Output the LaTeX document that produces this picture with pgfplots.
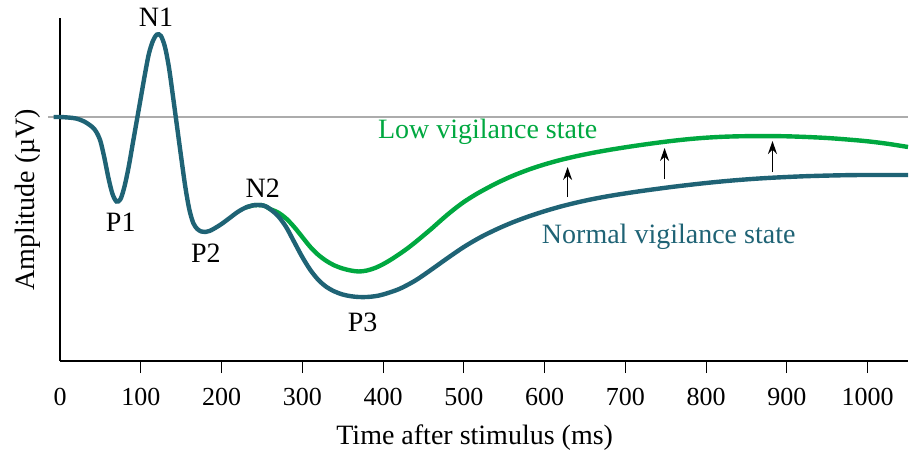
\documentclass[border=0pt]{standalone}
\usepackage{fontspec}
\setmainfont{Liberation Serif}
\usepackage{pgfplots}
\pgfplotsset{compat=1.18}
\usetikzlibrary{arrows.meta}

\definecolor{normalc}{RGB}{31,99,117}
\definecolor{lowc}{RGB}{0,168,64}
\definecolor{basec}{RGB}{172,172,172}

\begin{document}
\begin{tikzpicture}[font=\fontsize{14}{16}\selectfont]
\begin{axis}[
  scale only axis,
  width=424pt, height=171.5pt,
  xmin=0, xmax=1050,
  ymin=-24.4, ymax=9.9,
  clip=false,
  axis x line*=bottom,
  axis y line*=left,
  axis line style={line width=1.4pt, -},
  xtick={100,200,...,1000},
  extra x ticks={0},
  extra x tick style={tick style={draw=none}},
  ytick=\empty,
  tick align=outside,
  major tick length=6pt,
  tick style={black, line width=0.5pt},
  /pgf/number format/assume math mode=true,
  /pgf/number format/1000 sep={},
  xticklabel style={font=\fontsize{13}{15}\selectfont, yshift=-4pt},
  xlabel={Time after stimulus (ms)},
  ylabel={Amplitude (µV)},
  xlabel style={at={(axis description cs:0.489,-0.2245)}, anchor=center},
  ylabel style={at={(axis description cs:-0.038,0.47)}, anchor=center},
]
% zero line
\addplot[basec, line width=1.2pt] coordinates {(-15,0) (1050,0)};

% low vigilance branch (shares the early components)
\addplot[lowc, line width=2.2pt, smooth] coordinates {
  (230,-9.05) (240,-8.82) (245,-8.8) (250,-8.82) (255,-8.95) (260,-9.2) (270,-9.55)
  (280,-10.15) (290,-11.0) (300,-12.0) (310,-13.0) (320,-13.8)
  (330,-14.4) (340,-14.85) (350,-15.15) (360,-15.35) (370,-15.45)
  (380,-15.35) (390,-15.1) (400,-14.72) (410,-14.25) (420,-13.72)
  (430,-13.15) (440,-12.52) (450,-11.85) (460,-11.17) (470,-10.45)
  (480,-9.75) (490,-9.1) (500,-8.5) (510,-7.98) (520,-7.5)
  (540,-6.64) (560,-5.9) (580,-5.27) (600,-4.74) (620,-4.29)
  (640,-3.91) (660,-3.58) (680,-3.29) (700,-3.03) (720,-2.79)
  (740,-2.57) (760,-2.37) (780,-2.2) (800,-2.07) (820,-1.98)
  (840,-1.93) (860,-1.91) (880,-1.91) (900,-1.93) (925,-2.0)
  (950,-2.1) (975,-2.25) (1000,-2.43) (1025,-2.68) (1050,-3.0)
};

% normal vigilance ERP
\addplot[normalc, line width=2.2pt, smooth] coordinates {
  (-8,0) (0,0) (10,-0.05) (20,-0.15) (30,-0.45) (40,-1.0) (45,-1.5)
  (50,-2.4) (55,-4.1) (60,-6.1) (65,-7.7) (70,-8.45) (75,-8.2)
  (80,-6.9) (85,-5.0) (90,-2.7) (95,-0.4) (100,1.9) (105,4.2) (110,6.3)
  (115,7.6) (120,8.25) (125,8.1) (130,7.0) (135,4.9) (140,2.0)
  (145,-1.0) (150,-4.0) (155,-6.9) (160,-9.2) (165,-10.6) (170,-11.2)
  (175,-11.45) (180,-11.5) (185,-11.4) (190,-11.2) (200,-10.7)
  (210,-10.1) (220,-9.5) (230,-9.05) (240,-8.82) (245,-8.8) (250,-8.82)
  (255,-8.95) (260,-9.2) (270,-9.9)
  (280,-11.0) (290,-12.5) (300,-14.0) (310,-15.3) (320,-16.3)
  (330,-17.0) (340,-17.45) (350,-17.75) (360,-17.92) (370,-18.0)
  (380,-18.0) (390,-17.92) (400,-17.75) (420,-17.2) (440,-16.35)
  (460,-15.25) (480,-14.1) (500,-13.0) (520,-12.05) (540,-11.25)
  (560,-10.55) (580,-9.95) (600,-9.42) (620,-8.95) (640,-8.55)
  (660,-8.2) (680,-7.9) (700,-7.64) (720,-7.4) (740,-7.18) (760,-6.97)
  (780,-6.78) (800,-6.6) (820,-6.44) (840,-6.3) (860,-6.18) (880,-6.08)
  (900,-6.0) (920,-5.93) (940,-5.88) (960,-5.84) (980,-5.81) (1000,-5.8)
  (1050,-5.8)
};

% shift arrows
\addplot[black, line width=0.75pt, -{Stealth[length=6.5pt,width=4.5pt]}] coordinates {(628.5,-8.0) (628.5,-5.0)};
\addplot[black, line width=0.75pt, -{Stealth[length=6.5pt,width=4.5pt]}] coordinates {(748.6,-6.2) (748.6,-3.1)};
\addplot[black, line width=0.75pt, -{Stealth[length=6.5pt,width=4.5pt]}] coordinates {(882.2,-5.5) (882.2,-2.4)};

% component labels
\node at (axis cs:118.8,10.0) {N1};
\node at (axis cs:75.2,-10.5) {P1};
\node at (axis cs:180.7,-13.6) {P2};
\node at (axis cs:251,-7.1) {N2};
\node at (axis cs:374.7,-20.5) {P3};
\node[lowc] at (axis cs:529.5,-1.5) {Low vigilance state};
\node[normalc, anchor=west, inner sep=0pt] at (axis cs:596.3,-12.0) {Normal vigilance state};
\end{axis}
\pgfresetboundingbox
\path ([shift={(-30pt,-47.5pt)}]current axis.south west) rectangle ([shift={(0.5pt,9pt)}]current axis.north east);
\end{tikzpicture}
\end{document}
